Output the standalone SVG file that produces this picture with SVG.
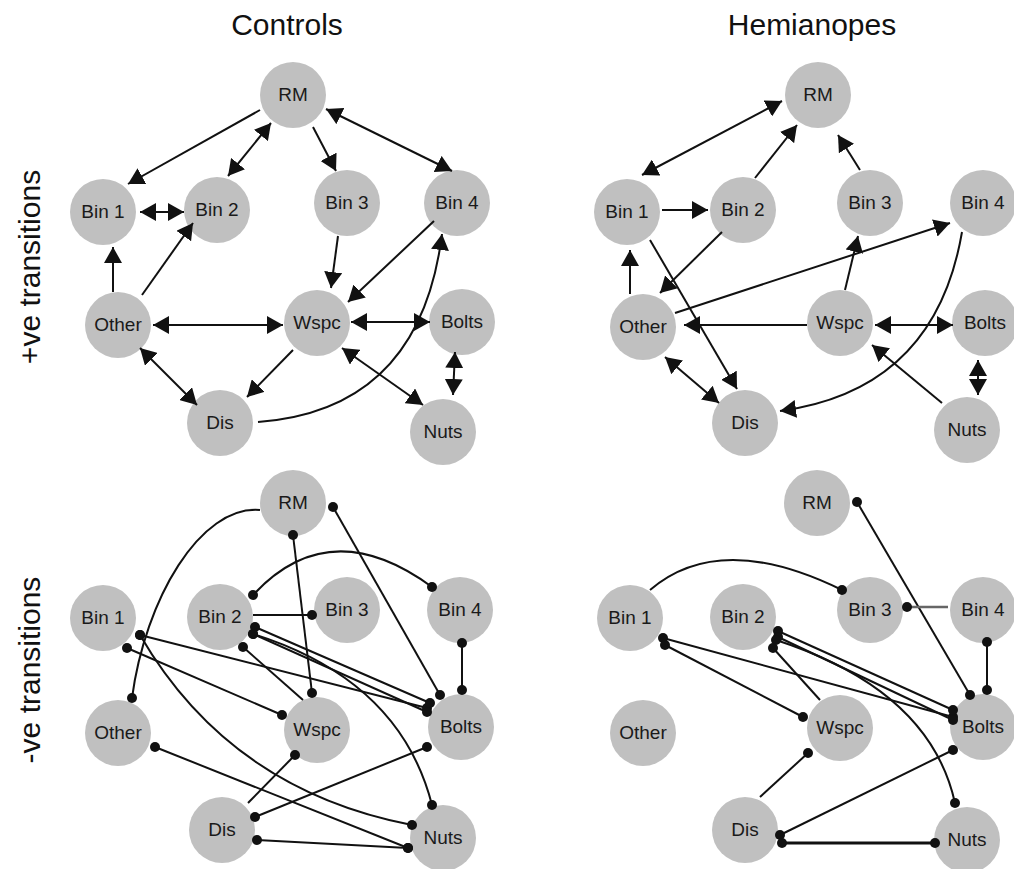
<svg xmlns="http://www.w3.org/2000/svg" width="1014" height="869" viewBox="0 0 1014 869">
<style>
.n circle{fill:#c0c0c0}
.n text{font-family:"Liberation Sans",Arial,sans-serif;font-size:19px;fill:#1a1a1a;text-anchor:middle}
.t{font-family:"Liberation Sans",Arial,sans-serif;font-size:30px;fill:#111;text-anchor:middle}
.e path{fill:none;stroke:#111;stroke-width:2}
.a{marker-end:url(#arr)}
.b{marker-start:url(#arr);marker-end:url(#arr)}
.d{marker-start:url(#dot);marker-end:url(#dot)}
.de{marker-end:url(#dot)}
.ds{marker-start:url(#dot)}
</style>
<defs>
<marker id="arr" markerUnits="userSpaceOnUse" markerWidth="17" markerHeight="18" refX="16" refY="9" orient="auto-start-reverse" viewBox="0 0 17 18"><path d="M0,0 L16,9 L0,18 z" fill="#111"/></marker>
<marker id="dot" markerUnits="userSpaceOnUse" markerWidth="11" markerHeight="11" refX="5.5" refY="5.5" viewBox="0 0 11 11"><circle cx="5.5" cy="5.5" r="5" fill="#111"/></marker>
</defs>
<rect width="1014" height="869" fill="#fff"/>
<text class="t" x="287" y="35">Controls</text>
<text class="t" x="812" y="35">Hemianopes</text>
<text class="t" transform="translate(40,267) rotate(-90)">+ve transitions</text>
<text class="t" transform="translate(40,670) rotate(-90)">-ve transitions</text>

<!-- Top-left nodes -->
<g id="c-pos-rm" class="n"><circle cx="293" cy="95" r="33"/><text x="293" y="101">RM</text></g>
<g id="c-pos-bin1" class="n"><circle cx="103" cy="212" r="33"/><text x="103" y="218">Bin 1</text></g>
<g id="c-pos-bin2" class="n"><circle cx="217" cy="210" r="33"/><text x="217" y="216">Bin 2</text></g>
<g id="c-pos-bin3" class="n"><circle cx="347" cy="203" r="33"/><text x="347" y="209">Bin 3</text></g>
<g id="c-pos-bin4" class="n"><circle cx="457" cy="203" r="33"/><text x="457" y="209">Bin 4</text></g>
<g id="c-pos-other" class="n"><circle cx="118" cy="325" r="33"/><text x="118" y="331">Other</text></g>
<g id="c-pos-wspc" class="n"><circle cx="317" cy="323" r="33"/><text x="317" y="329">Wspc</text></g>
<g id="c-pos-bolts" class="n"><circle cx="462" cy="322" r="33"/><text x="462" y="328">Bolts</text></g>
<g id="c-pos-dis" class="n"><circle cx="220" cy="423" r="33"/><text x="220" y="429">Dis</text></g>
<g id="c-pos-nuts" class="n"><circle cx="443" cy="432" r="33"/><text x="443" y="438">Nuts</text></g>

<!-- Top-right nodes -->
<g id="h-pos-rm" class="n"><circle cx="818" cy="95" r="33"/><text x="818" y="101">RM</text></g>
<g id="h-pos-bin1" class="n"><circle cx="627" cy="212" r="33"/><text x="627" y="218">Bin 1</text></g>
<g id="h-pos-bin2" class="n"><circle cx="743" cy="210" r="33"/><text x="743" y="216">Bin 2</text></g>
<g id="h-pos-bin3" class="n"><circle cx="870" cy="203" r="33"/><text x="870" y="209">Bin 3</text></g>
<g id="h-pos-bin4" class="n"><circle cx="983" cy="203" r="33"/><text x="983" y="209">Bin 4</text></g>
<g id="h-pos-other" class="n"><circle cx="643" cy="327" r="33"/><text x="643" y="333">Other</text></g>
<g id="h-pos-wspc" class="n"><circle cx="840" cy="323" r="33"/><text x="840" y="329">Wspc</text></g>
<g id="h-pos-bolts" class="n"><circle cx="985" cy="323" r="33"/><text x="985" y="329">Bolts</text></g>
<g id="h-pos-dis" class="n"><circle cx="745" cy="423" r="33"/><text x="745" y="429">Dis</text></g>
<g id="h-pos-nuts" class="n"><circle cx="967" cy="430" r="33"/><text x="967" y="436">Nuts</text></g>

<!-- Bottom-left nodes -->
<g id="c-neg-rm" class="n"><circle cx="293" cy="503" r="33"/><text x="293" y="509">RM</text></g>
<g id="c-neg-bin1" class="n"><circle cx="103" cy="618" r="33"/><text x="103" y="624">Bin 1</text></g>
<g id="c-neg-bin2" class="n"><circle cx="220" cy="617" r="33"/><text x="220" y="623">Bin 2</text></g>
<g id="c-neg-bin3" class="n"><circle cx="347" cy="610" r="33"/><text x="347" y="616">Bin 3</text></g>
<g id="c-neg-bin4" class="n"><circle cx="460" cy="610" r="33"/><text x="460" y="616">Bin 4</text></g>
<g id="c-neg-other" class="n"><circle cx="118" cy="733" r="33"/><text x="118" y="739">Other</text></g>
<g id="c-neg-wspc" class="n"><circle cx="317" cy="730" r="33"/><text x="317" y="736">Wspc</text></g>
<g id="c-neg-bolts" class="n"><circle cx="461" cy="727" r="33"/><text x="461" y="733">Bolts</text></g>
<g id="c-neg-dis" class="n"><circle cx="222" cy="830" r="33"/><text x="222" y="836">Dis</text></g>
<g id="c-neg-nuts" class="n"><circle cx="443" cy="838" r="33"/><text x="443" y="844">Nuts</text></g>

<!-- Bottom-right nodes -->
<g id="h-neg-rm" class="n"><circle cx="817" cy="503" r="33"/><text x="817" y="509">RM</text></g>
<g id="h-neg-bin1" class="n"><circle cx="630" cy="618" r="33"/><text x="630" y="624">Bin 1</text></g>
<g id="h-neg-bin2" class="n"><circle cx="743" cy="617" r="33"/><text x="743" y="623">Bin 2</text></g>
<g id="h-neg-bin3" class="n"><circle cx="870" cy="610" r="33"/><text x="870" y="616">Bin 3</text></g>
<g id="h-neg-bin4" class="n"><circle cx="983" cy="610" r="33"/><text x="983" y="616">Bin 4</text></g>
<g id="h-neg-other" class="n"><circle cx="643" cy="733" r="33"/><text x="643" y="739">Other</text></g>
<g id="h-neg-wspc" class="n"><circle cx="840" cy="728" r="33"/><text x="840" y="734">Wspc</text></g>
<g id="h-neg-bolts" class="n"><circle cx="983" cy="727" r="33"/><text x="983" y="733">Bolts</text></g>
<g id="h-neg-dis" class="n"><circle cx="745" cy="830" r="33"/><text x="745" y="836">Dis</text></g>
<g id="h-neg-nuts" class="n"><circle cx="967" cy="840" r="33"/><text x="967" y="846">Nuts</text></g>

<g id="connectors" class="e">
<!-- Controls +ve -->
<path class="a" d="M260,110 L128,184"/>
<path class="b" d="M271,123 L228,176"/>
<path class="a" d="M313,127 L336,171"/>
<path class="b" d="M326,109 L452,171"/>
<path class="b" d="M140,212 L184,212"/>
<path class="a" d="M113,292 L113,247"/>
<path class="a" d="M142,295 L193,223"/>
<path class="b" d="M153,325 L283,325"/>
<path class="a" d="M338,236 L331,288"/>
<path class="a" d="M434,221 L348,302"/>
<path class="b" d="M351,322 L430,322"/>
<path class="a" d="M293,350 L247,397"/>
<path class="b" d="M140,348 L197,405"/>
<path class="b" d="M342,348 L423,405"/>
<path class="b" d="M455,352 L453,395"/>
<path class="a" d="M258,422 Q420,410 442,234"/>
<!-- Hemianopes +ve -->
<path class="b" d="M782,101 L642,175"/>
<path class="a" d="M755,178 L797,125"/>
<path class="a" d="M860,170 L838,135"/>
<path class="a" d="M662,210 L708,210"/>
<path class="a" d="M630,294 L630,250"/>
<path class="a" d="M722,232 L660,293"/>
<path class="a" d="M675,313 L950,223"/>
<path class="a" d="M650,240 L737,389"/>
<path class="a" d="M845,290 L858,236"/>
<path class="a" d="M807,325 L684,325"/>
<path class="b" d="M875,325 L953,325"/>
<path class="b" d="M665,357 L719,403"/>
<path class="a" d="M962,232 Q935,390 780,411"/>
<path class="a" d="M942,403 L872,345"/>
<path class="b" d="M978,360 L978,395"/>
<!-- Controls -ve -->
<path class="de" d="M260,510 C200,505 145,600 132,698"/>
<path class="d" d="M333,507 L440,695"/>
<path class="d" d="M293,535 L312,693"/>
<path class="d" d="M253,595 Q330,512 432,587"/>
<path class="de" d="M253,615 L312,615"/>
<path class="d" d="M462,643 L462,690"/>
<path class="d" d="M140,635 L427,708"/>
<path class="d" d="M127,648 L282,715"/>
<path class="d" d="M140,635 Q230,790 412,825"/>
<path class="d" d="M155,747 L408,848"/>
<path class="d" d="M257,840 L408,848"/>
<path class="de" d="M248,803 L295,755"/>
<path class="d" d="M255,817 L427,747"/>
<path class="d" d="M255,627 L430,703"/>
<path class="d" d="M253,634 L427,712"/>
<path class="d" d="M253,634 Q400,680 432,805"/>
<path class="ds" d="M243,647 L303,700"/>
<!-- Hemianopes -ve -->
<path class="d" d="M857,502 L970,695"/>
<path class="de" d="M650,590 Q720,530 842,590"/>
<path class="ds" d="M907,607 L948,607" style="stroke:#666;stroke-width:2.5"/>
<path class="d" d="M987,642 L987,690"/>
<path class="d" d="M663,638 L953,717"/>
<path class="d" d="M665,645 L803,717"/>
<path class="d" d="M778,631 L953,710"/>
<path class="d" d="M778,637 L953,720"/>
<path class="d" d="M776,640 Q930,690 955,803"/>
<path class="ds" d="M773,648 L820,700"/>
<path class="ds" d="M808,753 L760,797"/>
<path class="d" d="M953,750 L780,835"/>
<path class="d" d="M782,843 L935,843" style="stroke-width:3"/>
</g>
</svg>
